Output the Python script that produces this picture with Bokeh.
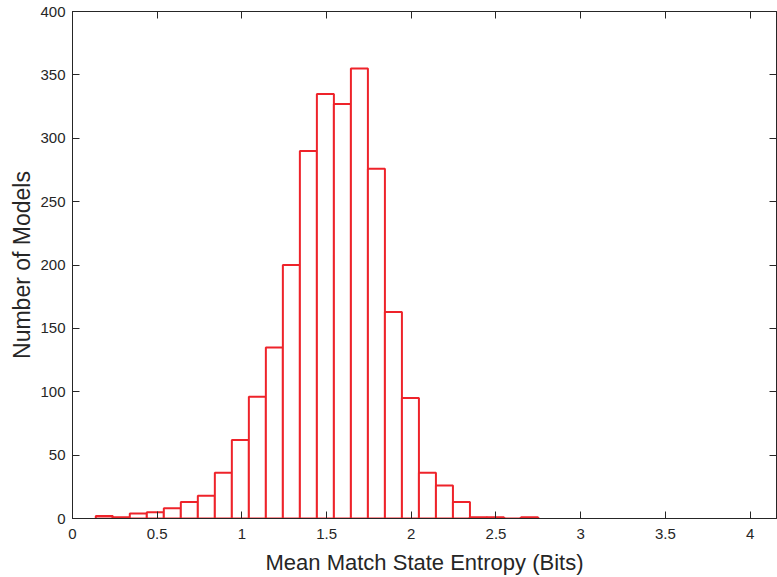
from bokeh.plotting import figure
from bokeh.models import Range1d, LinearAxis, FixedTicker, ColumnDataSource
from bokeh.embed import file_html
from bokeh.resources import INLINE

# Histogram data
bin_start = 0.1375
bin_width = 0.1004
counts = [2, 1, 4, 5, 8, 13, 18, 36, 62, 96, 135, 200, 290, 335, 327, 355,
          276, 163, 95, 36, 26, 13, 1, 1, 0, 1]
x_ticks = [0, 0.5, 1, 1.5, 2, 2.5, 3, 3.5, 4]
x_tick_labels = ["0", "0.5", "1", "1.5", "2", "2.5", "3", "3.5", "4"]
y_ticks = [0, 50, 100, 150, 200, 250, 300, 350, 400]
x_label = "Mean Match State Entropy (Bits)"
y_label = "Number of Models"

lefts = [bin_start + i * bin_width for i in range(len(counts))]
rights = [l + bin_width for l in lefts]
src = ColumnDataSource(dict(left=lefts, right=rights, top=counts, bottom=[0] * len(counts)))

AX = "#262626"
RED = "#EE232A"
FONT = "Liberation Sans"

p = figure(width=777, height=577, output_backend="svg", toolbar_location=None,
           x_range=Range1d(0, 4.156), y_range=Range1d(0, 400),
           min_border_left=72, min_border_right=1, min_border_top=11, min_border_bottom=58)
p.xgrid.visible = False
p.ygrid.visible = False
p.outline_line_color = AX
p.outline_line_width = 1

p.quad(left="left", right="right", top="top", bottom="bottom", source=src,
       fill_color="white", line_color=RED, line_width=2)

def style_axis(ax, ticks, show_labels):
    ax.ticker = FixedTicker(ticks=ticks)
    ax.axis_line_color = AX
    ax.major_tick_line_color = AX
    ax.major_tick_in = 7
    ax.major_tick_out = 0
    ax.minor_tick_line_color = None
    ax.major_label_text_font = FONT
    ax.major_label_text_color = AX
    ax.axis_label_text_font = FONT
    ax.axis_label_text_color = AX
    ax.axis_label_text_font_style = "normal"
    if show_labels:
        ax.major_label_text_font_size = "15px"
        ax.major_label_standoff = 7
        ax.axis_label_text_font_size = "22px"
    else:
        ax.major_label_text_font_size = "0px"
        ax.major_label_standoff = 0
        ax.major_label_text_alpha = 0

xa = p.xaxis[0]
style_axis(xa, x_ticks, True)
xa.major_label_overrides = {t: s for t, s in zip(x_ticks, x_tick_labels)}
xa.major_label_standoff = 10
xa.axis_label = x_label
xa.axis_label_standoff = 8

ya = p.yaxis[0]
style_axis(ya, y_ticks, True)
ya.axis_label = y_label
ya.axis_label_text_font_size = "23px"
ya.axis_label_standoff = 2

top_ax = LinearAxis()
style_axis(top_ax, x_ticks, False)
p.add_layout(top_ax, "above")

right_ax = LinearAxis()
style_axis(right_ax, y_ticks, False)
p.add_layout(right_ax, "right")

open("out.html", "w").write(file_html(p, INLINE))
